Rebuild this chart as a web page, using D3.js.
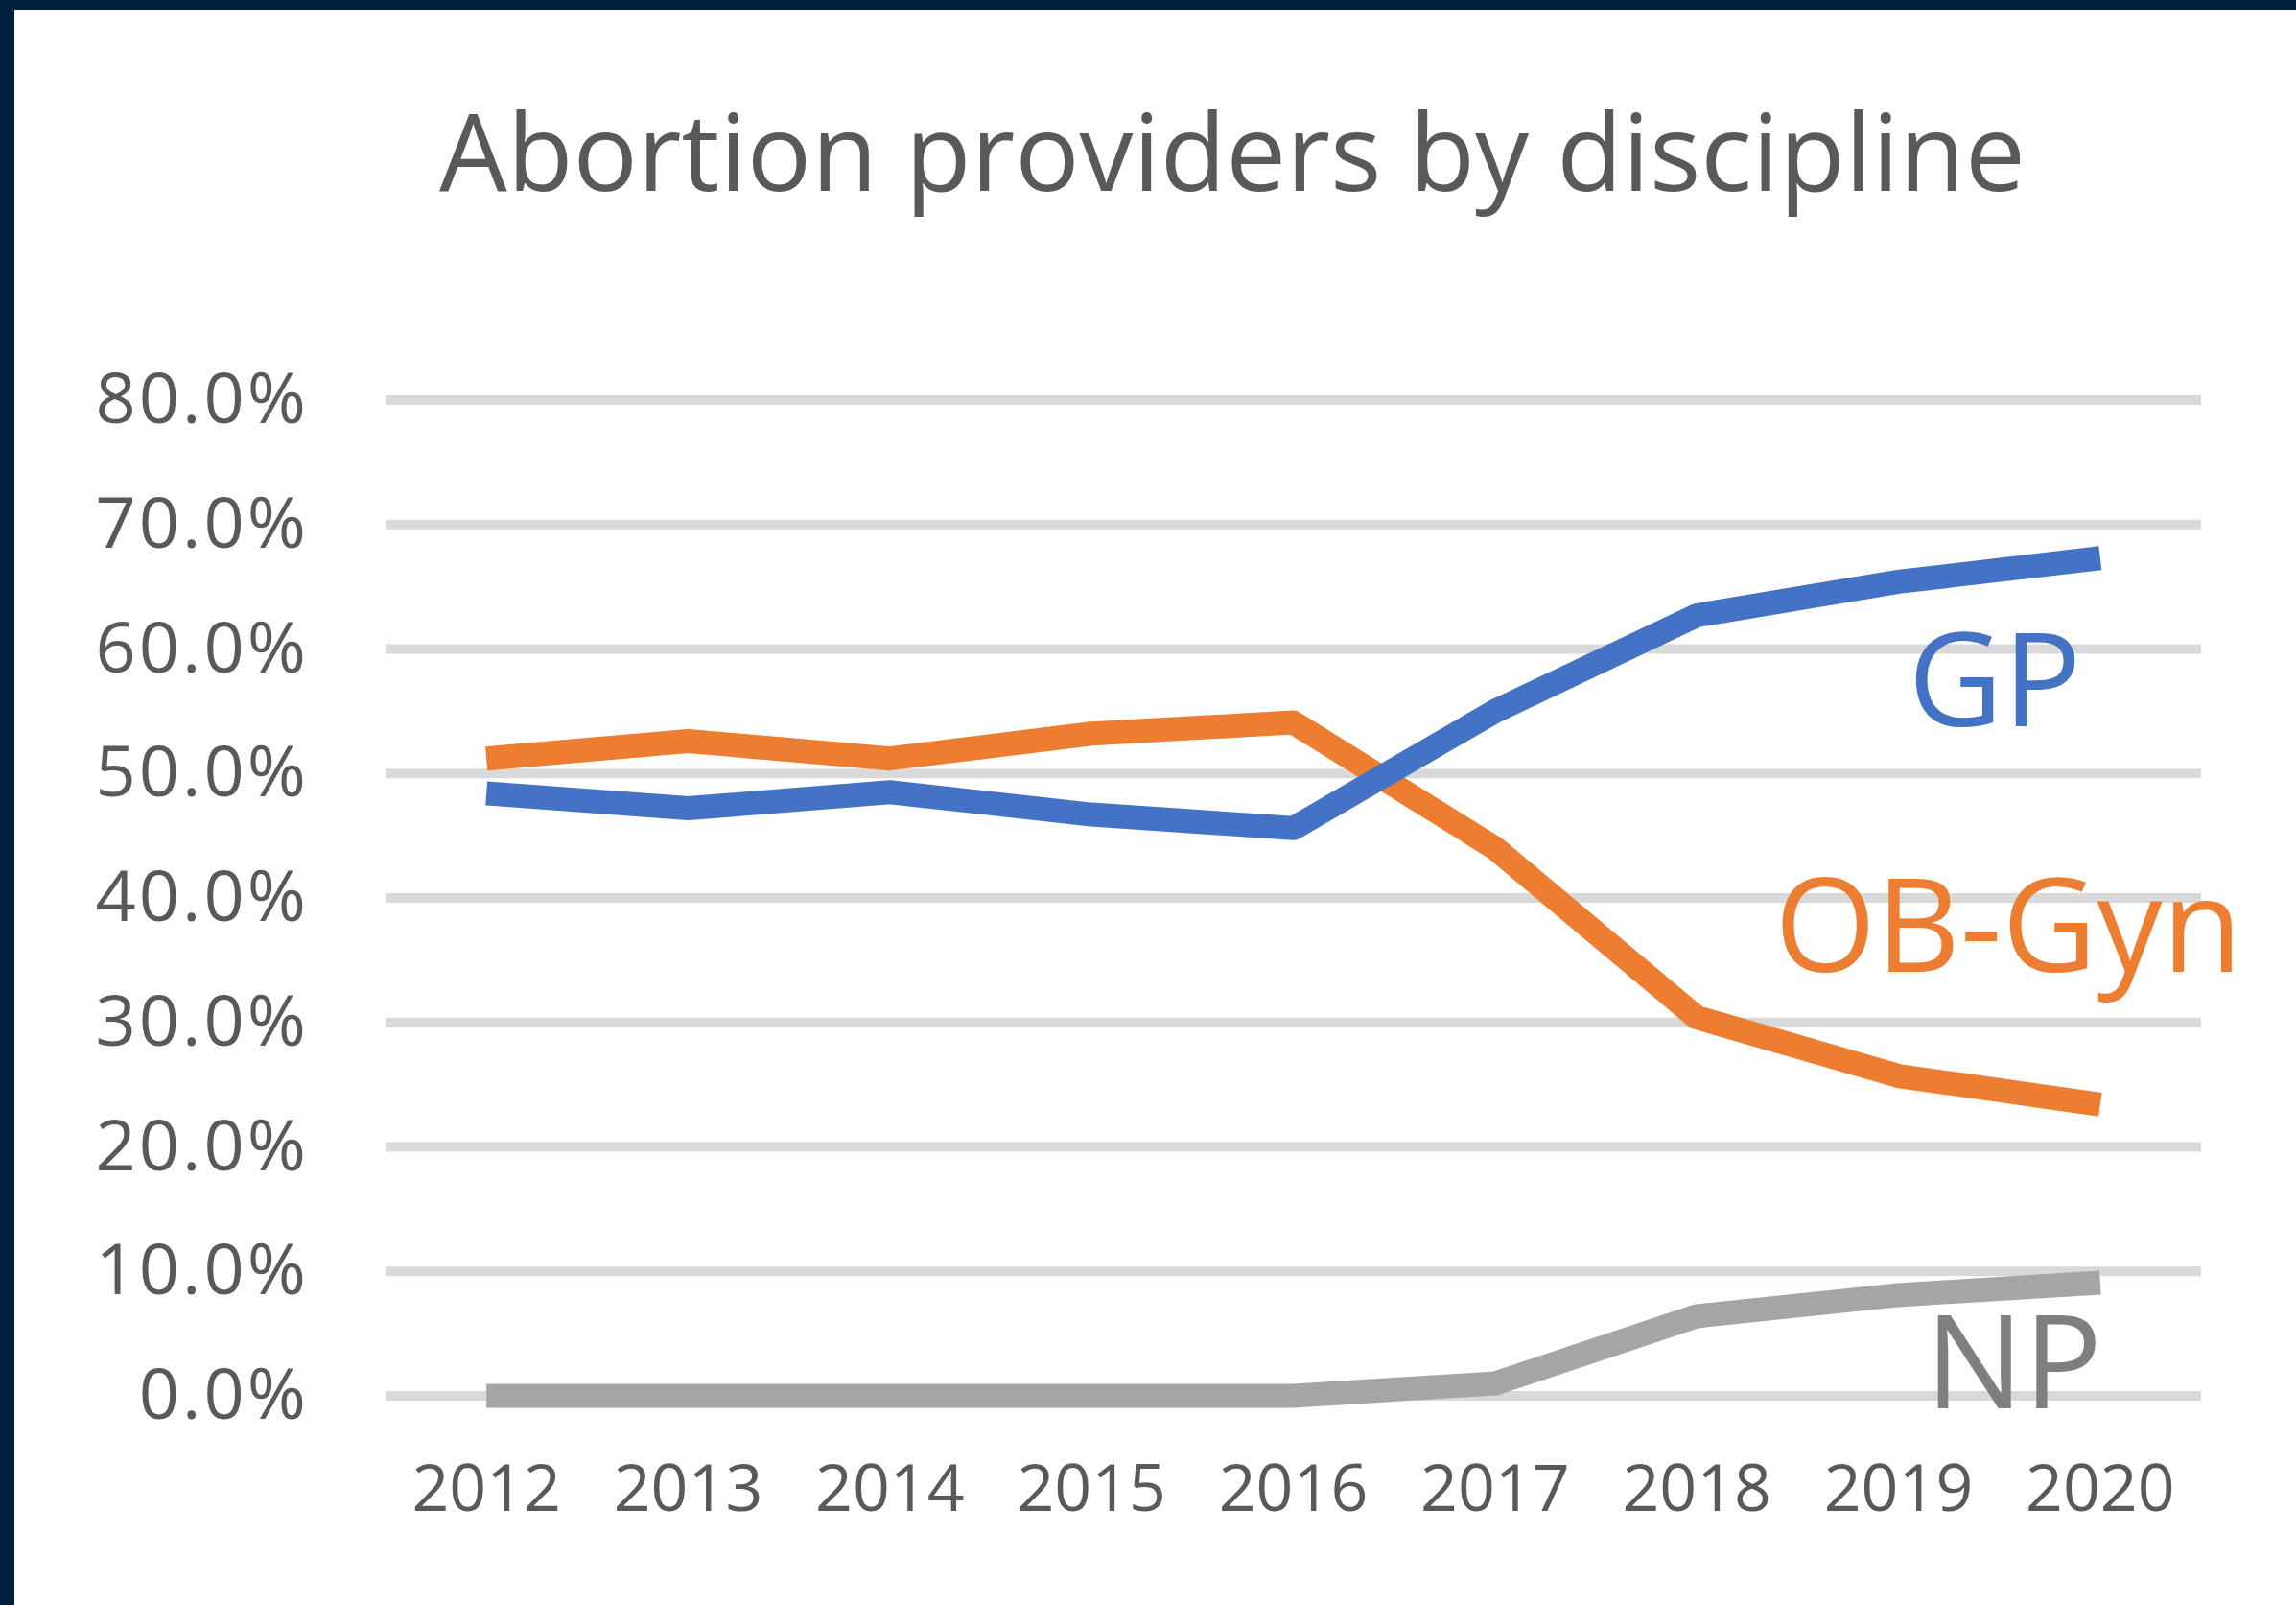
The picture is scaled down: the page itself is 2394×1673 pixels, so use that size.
<!DOCTYPE html>
<html lang="en">
<head>
<meta charset="UTF-8">
<title>Abortion providers by discipline</title>
<script src="https://d3js.org/d3.v7.min.js"></script>
<style>
  body { margin: 0; background: #fff; }
  svg { display: block; font-family: "Open Sans", sans-serif; }
</style>
</head>
<body>
<svg></svg>
<script>
    // values (percent of providers)
    const years = ["2012", "2013", "2014", "2015", "2016", "2017", "2018", "2019", "2020"];
    const gp    = [48.4, 47.2, 48.5, 46.7, 45.6, 55.0, 62.7, 65.4, 67.3];
    const obgyn = [51.2, 52.6, 51.2, 53.2, 54.1, 44.0, 30.4, 25.7, 23.4];
    const np    = [0, 0, 0, 0, 0, 1.0, 6.4, 8.1, 9.1];
    const yTicks = [0, 10, 20, 30, 40, 50, 60, 70, 80];

    const width = 2394, height = 1673;

    const series = [
        { name: "GP", values: gp, color: "#4472C4", labelColor: "#4472C4" },
        { name: "OB-Gyn", values: obgyn, color: "#ED7D31", labelColor: "#ED7D31" },
        { name: "NP", values: np, color: "#A5A5A5", labelColor: "#7F7F7F" }
    ];

    const svg = d3.select("svg")
        .attr("width", width)
        .attr("height", height);

    svg.append("rect").attr("width", width).attr("height", height).attr("fill", "#fff");
    // dark frame (top and left edges only)
    svg.append("rect").attr("width", width).attr("height", 10).attr("fill", "#001f3f");
    svg.append("rect").attr("width", 15).attr("height", height).attr("fill", "#001f3f");

    const x = d3.scaleBand().domain(years).range([402, 2295]).padding(0);
    const y = d3.scaleLinear().domain([0, 80]).range([1455, 417]);

    svg.append("text")
        .attr("x", 1285)
        .attr("y", 199)
        .attr("text-anchor", "middle")
        .attr("fill", "#595959")
        .style("font-size", "112px")
        .text("Abortion providers by discipline");

    // gridlines
    svg.append("g")
        .selectAll("line")
        .data(yTicks)
        .join("line")
        .attr("x1", x.range()[0])
        .attr("x2", x.range()[1])
        .attr("y1", d => y(d))
        .attr("y2", d => y(d))
        .attr("stroke", "#d9d9d9")
        .attr("stroke-width", 10);

    // y axis labels
    const yAxis = svg.append("g")
        .attr("transform", `translate(${x.range()[0]},0)`)
        .call(d3.axisLeft(y).tickValues(yTicks).tickSize(0).tickPadding(80)
            .tickFormat(d => d.toFixed(1) + "%"));
    yAxis.select(".domain").remove();
    yAxis.selectAll("text")
        .attr("fill", "#595959")
        .style("font-size", "74px")
        .style("letter-spacing", "3px")
        .style("font-family", "'Open Sans', sans-serif");

    // x axis labels
    const xAxis = svg.append("g")
        .attr("transform", `translate(0,${y(0)})`)
        .call(d3.axisBottom(x).tickSize(0).tickPadding(72));
    xAxis.select(".domain").remove();
    xAxis.selectAll("text")
        .attr("fill", "#595959")
        .style("font-size", "68px")
        .style("font-family", "'Open Sans', sans-serif");

    const line = d3.line()
        .x((d, i) => x(years[i]) + x.bandwidth() / 2)
        .y(d => y(d));

    // draw NP first so GP / OB-Gyn sit on top, as in the original
    svg.append("g")
        .selectAll("path")
        .data(series.slice().reverse())
        .join("path")
        .attr("d", d => line(d.values))
        .attr("fill", "none")
        .attr("stroke", d => d.color)
        .attr("stroke-width", 25)
        .attr("stroke-linejoin", "round");

    // series labels placed beside the right end of each line
    const labelPos = {
        "GP":     { x: x("2019") + x.bandwidth() / 2 + 10, y: y(53.8) },
        "OB-Gyn": { x: x("2018") + x.bandwidth() / 2 + 81, y: y(34.1) },
        "NP":     { x: x("2019") + x.bandwidth() / 2 + 28, y: y(-1) }
    };

    svg.append("g")
        .selectAll("text")
        .data(series)
        .join("text")
        .attr("x", d => labelPos[d.name].x)
        .attr("y", d => labelPos[d.name].y)
        .attr("fill", d => d.labelColor)
        .style("font-size", "136px")
        .text(d => d.name);
</script>
</body>
</html>
